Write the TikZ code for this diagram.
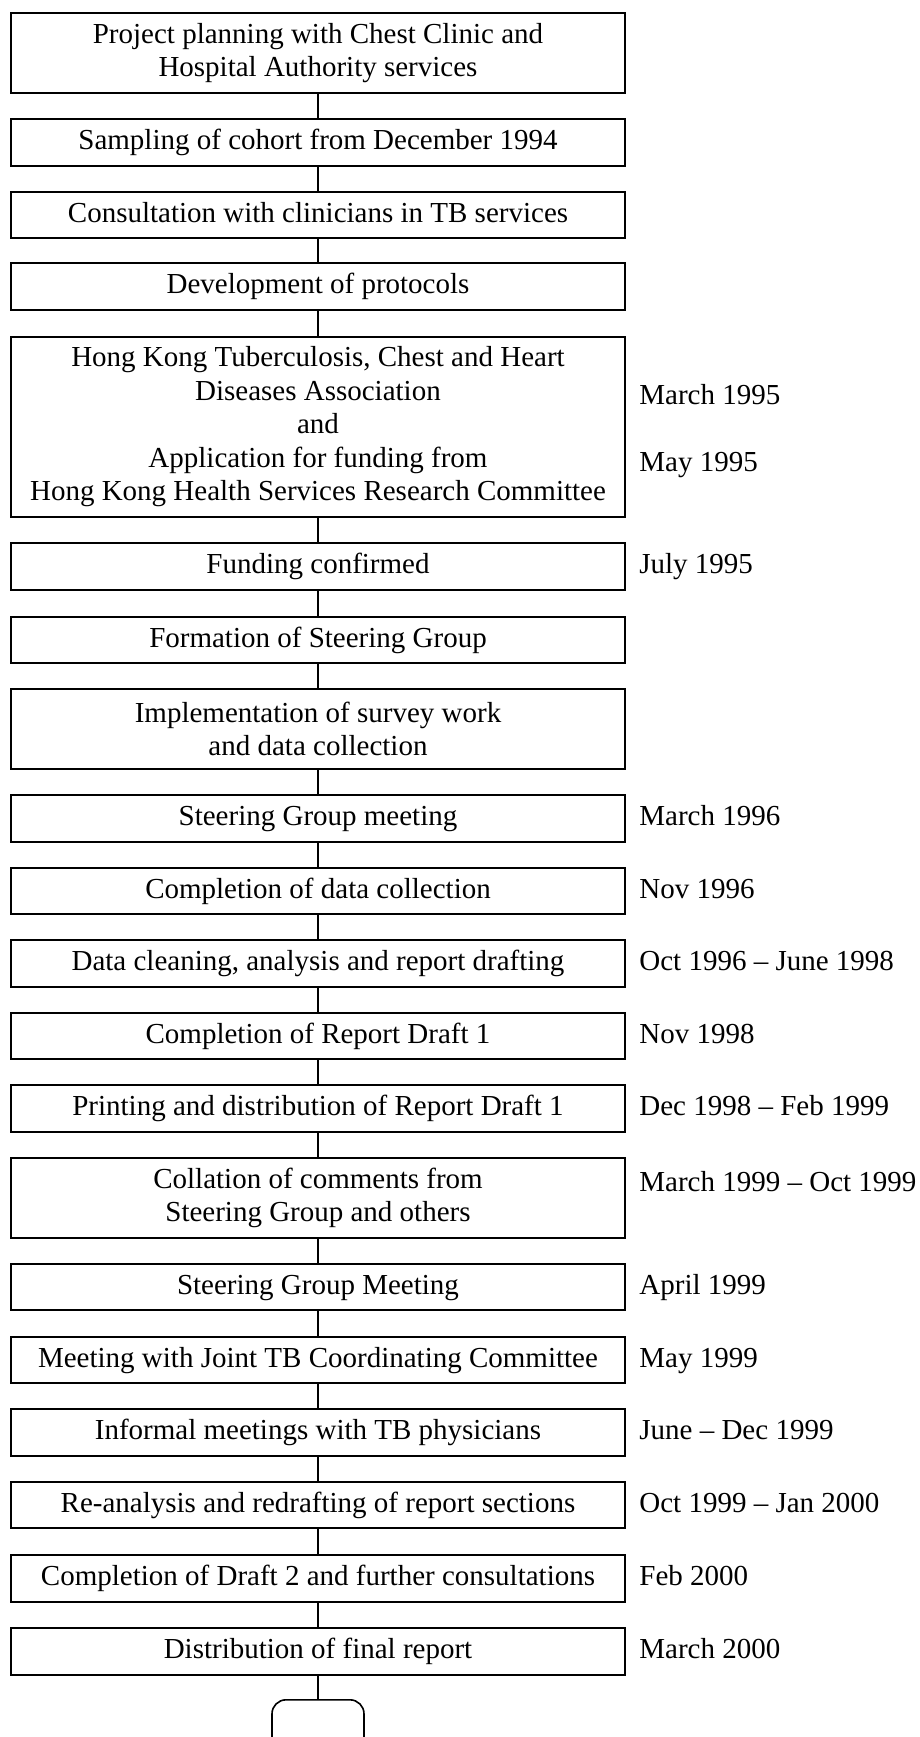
\documentclass[tikz,border=0pt]{standalone}
\usepackage{fontspec}
\setmainfont{Liberation Serif}
\begin{document}
\begin{tikzpicture}[x=0.5pt,y=-0.5pt,
  txt/.style={font=\fontsize{14.5}{16.75}\selectfont},
  stepbox/.style={draw, line width=0.8pt, minimum width=307pt, inner sep=0pt, align=center, txt},
  one/.style={stepbox, minimum height=23.25pt, text height=10pt, text depth=3pt},
  two/.style={stepbox, minimum height=40pt},
  date/.style={anchor=base west, inner sep=0pt, txt},
  link/.style={line width=0.6pt}]
\useasboundingbox (0,0) rectangle (920,1737);

% process steps, top to bottom
\node[two] (b1) at (318,53) {Project planning with Chest Clinic and\\Hospital Authority services};
\node[one] (b2) at (318,142.5) {Sampling of cohort from December 1994};
\node[one] (b3) at (318,215) {Consultation with clinicians in TB services};
\node[one] (b4) at (318,286.5) {Development of protocols};
\node[stepbox, minimum height=90pt] (b5) at (318,427) {Hong Kong Tuberculosis, Chest and Heart\\Diseases Association\\and\\Application for funding from\\Hong Kong Health Services Research Committee};
\node[one] (b6) at (318,566.5) {Funding confirmed};
\node[one] (b7) at (318,640) {Formation of Steering Group};
\node[two] (b8) at (318,729) {Implementation of survey work\\and data collection};
\node[one] (b9) at (318,818.5) {Steering Group meeting};
\node[one] (b10) at (318,891) {Completion of data collection};
\node[one] (b11) at (318,963.5) {Data cleaning, analysis and report drafting};
\node[one] (b12) at (318,1036) {Completion of Report Draft 1};
\node[one] (b13) at (318,1108.5) {Printing and distribution of Report Draft 1};
\node[two] (b14) at (318,1198) {Collation of comments from\\Steering Group and others};
\node[one] (b15) at (318,1287) {Steering Group Meeting};
\node[one] (b16) at (318,1360) {Meeting with Joint TB Coordinating Committee};
\node[one] (b17) at (318,1432.5) {Informal meetings with TB physicians};
\node[one] (b18) at (318,1505) {Re-analysis and redrafting of report sections};
\node[one] (b19) at (318,1578.5) {Completion of Draft 2 and further consultations};
\node[one] (b20) at (318,1651.5) {Distribution of final report};
\node[draw, line width=0.8pt, rounded corners=7pt, minimum width=46pt, minimum height=32pt, anchor=north] (stop) at (318,1699) {};

% connectors
\foreach \i [evaluate=\i as \j using int(\i+1)] in {1,...,19}
  \draw[link] (b\i.south) -- (b\j.north);
\draw[link] (b20.south) -- (stop.north);

% dates
\node[date] (d5a) at (639,404) {March 1995};
\node[date] (d5b) at (639,471) {May 1995};
\node[date] (d6) at ([yshift=-3.5pt]b6.center -| 639,0) {July 1995};
\node[date] (d9) at ([yshift=-3.5pt]b9.center -| 639,0) {March 1996};
\node[date] (d10) at ([yshift=-3.5pt]b10.center -| 639,0) {Nov 1996};
\node[date] (d11) at ([yshift=-3.5pt]b11.center -| 639,0) {Oct 1996 \textendash\ June 1998};
\node[date] (d12) at ([yshift=-3.5pt]b12.center -| 639,0) {Nov 1998};
\node[date] (d13) at ([yshift=-3.5pt]b13.center -| 639,0) {Dec 1998 \textendash\ Feb 1999};
\node[date] (d14) at (639,1191) {March 1999 \textendash\ Oct 1999};
\node[date] (d15) at ([yshift=-3.5pt]b15.center -| 639,0) {April 1999};
\node[date] (d16) at ([yshift=-3.5pt]b16.center -| 639,0) {May 1999};
\node[date] (d17) at ([yshift=-3.5pt]b17.center -| 639,0) {June \textendash\ Dec 1999};
\node[date] (d18) at ([yshift=-3.5pt]b18.center -| 639,0) {Oct 1999 \textendash\ Jan 2000};
\node[date] (d19) at ([yshift=-3.5pt]b19.center -| 639,0) {Feb 2000};
\node[date] (d20) at ([yshift=-3.5pt]b20.center -| 639,0) {March 2000};
\end{tikzpicture}
\end{document}
